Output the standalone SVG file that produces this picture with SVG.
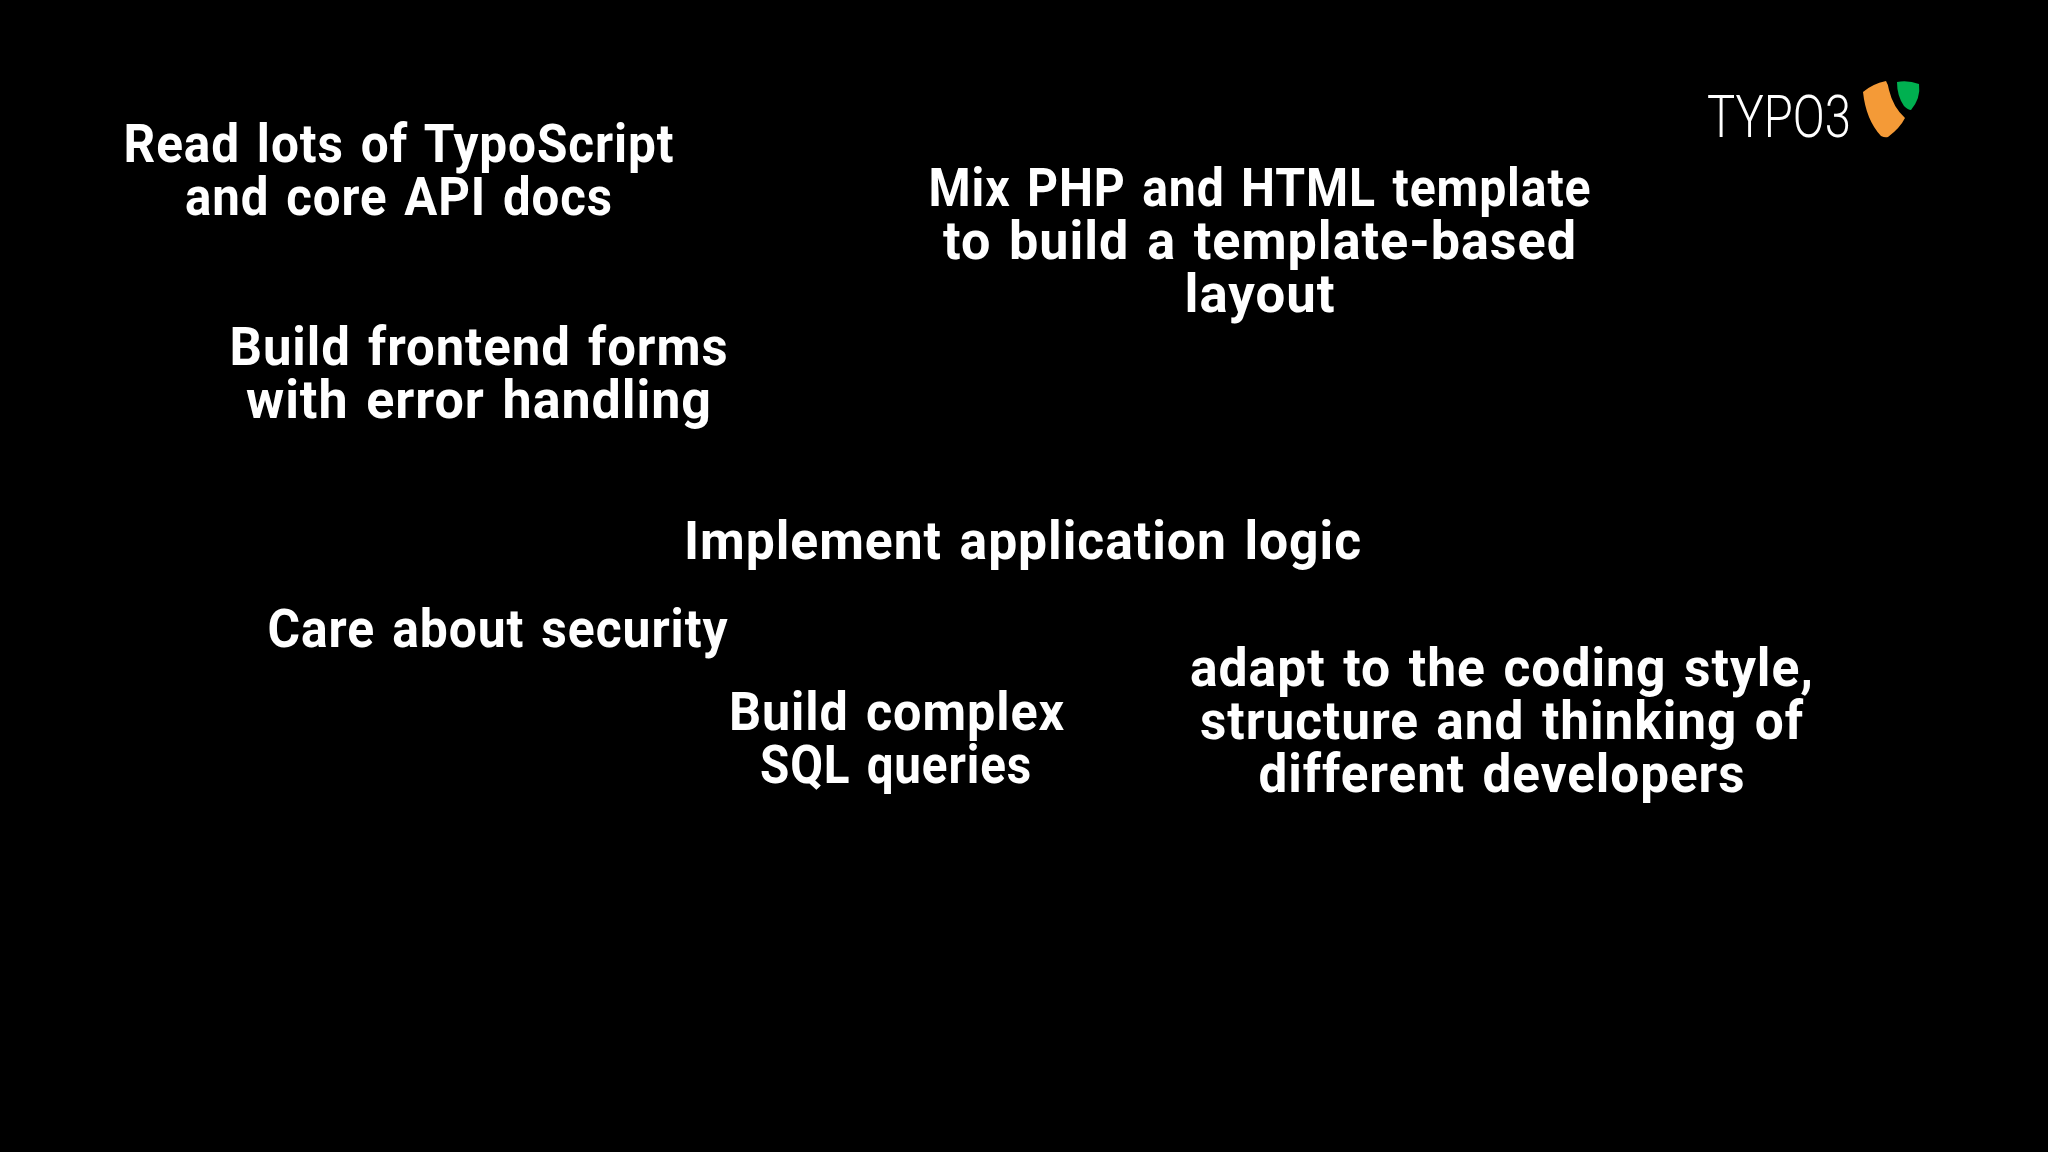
<svg xmlns="http://www.w3.org/2000/svg" width="2048" height="1152" viewBox="0 0 2048 1152">
<style>
.t{font-family:"Roboto","Liberation Sans",sans-serif;font-weight:700;font-size:54px;fill:#fff;text-anchor:middle;word-spacing:4px;letter-spacing:1px}
</style>
<rect width="2048" height="1152" fill="#000"/>
<g id="n1"><text class="t" x="399" y="162" textLength="551" lengthAdjust="spacingAndGlyphs">Read lots of TypoScript</text><text class="t" x="399" y="215" textLength="428" lengthAdjust="spacingAndGlyphs">and core API docs</text></g>
<g id="n2"><text class="t" x="1260" y="206" textLength="663" lengthAdjust="spacingAndGlyphs">Mix PHP and HTML template</text><text class="t" x="1260" y="259" textLength="634" lengthAdjust="spacingAndGlyphs">to build a template-based</text><text class="t" x="1260" y="312" textLength="151" lengthAdjust="spacingAndGlyphs">layout</text></g>
<g id="n3"><text class="t" x="479" y="365" textLength="499" lengthAdjust="spacingAndGlyphs">Build frontend forms</text><text class="t" x="479" y="418" textLength="466" lengthAdjust="spacingAndGlyphs">with error handling</text></g>
<g id="n4"><text class="t" x="1023" y="559" textLength="678" lengthAdjust="spacingAndGlyphs">Implement application logic</text></g>
<g id="n5"><text class="t" x="498" y="647" textLength="461" lengthAdjust="spacingAndGlyphs">Care about security</text></g>
<g id="n6"><text class="t" x="897" y="730" textLength="336" lengthAdjust="spacingAndGlyphs">Build complex</text><text class="t" x="896" y="783" textLength="272" lengthAdjust="spacingAndGlyphs">SQL queries</text></g>
<g id="n7"><text class="t" x="1502" y="686" textLength="624" lengthAdjust="spacingAndGlyphs">adapt to the coding style,</text><text class="t" x="1502" y="739" textLength="604" lengthAdjust="spacingAndGlyphs">structure and thinking of</text><text class="t" x="1502" y="792" textLength="487" lengthAdjust="spacingAndGlyphs">different developers</text></g>
<g id="logo"><text x="1707" y="137" font-family="Roboto,Liberation Sans,sans-serif" font-weight="300" font-size="59" fill="#fff" textLength="144" lengthAdjust="spacingAndGlyphs">TYPO3</text>
<path d="M1863 92 Q1872 84 1886 81 Q1888 84 1889 90 Q1893 107 1905 118 Q1900 128 1888 137 Q1885 138 1881 136 Q1866 120 1863 92Z" fill="#f49a37"/>
<path d="M1897 82 Q1908 80 1919 84 Q1921 98 1911 110 Q1908 110 1904 106 Q1897 96 1897 82Z" fill="#00b050"/></g>
</svg>
